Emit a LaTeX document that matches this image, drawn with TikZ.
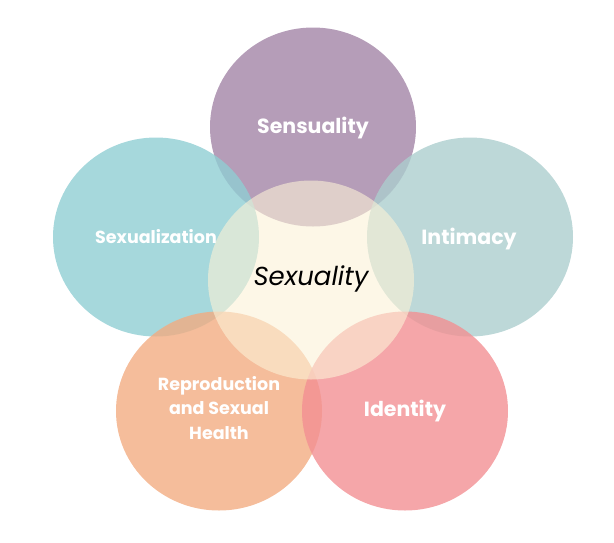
\documentclass[tikz,border=0pt]{standalone}
\usepackage{fontspec}
\setmainfont{Poppins}
\usetikzlibrary{shapes.geometric}
\definecolor{cpurple}{RGB}{162,132,166}
\definecolor{cteal}{RGB}{144,206,211}
\definecolor{cmint}{RGB}{172,206,206}
\definecolor{corange}{RGB}{242,172,130}
\definecolor{cpink}{RGB}{242,144,147}
\definecolor{ccream}{RGB}{252,242,215}
\tikzset{
  blob/.style={ellipse, minimum width=206pt, minimum height=199pt, inner sep=0pt, fill opacity=0.8, draw=none},
  core/.style={ellipse, minimum width=206pt, minimum height=199pt, inner sep=0pt, fill=ccream, fill opacity=0.6, draw=none},
  lab/.style={text=white, anchor=base, inner sep=0pt, font=\fontsize{20.5}{22}\selectfont\bfseries, align=center},
  small/.style={text=white, anchor=base, inner sep=0pt, font=\fontsize{17.5}{24.5}\selectfont\bfseries, align=center},
}
\begin{document}
\begin{tikzpicture}[x=1pt,y=-1pt]
\useasboundingbox (0,0) rectangle (614,542);
\node[blob, fill=cpurple] (sens) at (313,127) {};
\node[blob, fill=cteal] (sexz) at (156,237) {};
\node[blob, fill=cmint] (inti) at (470,237) {};
\node[blob, fill=corange] (repr) at (219,411) {};
\node[blob, fill=cpink] (iden) at (405,411) {};
\node[core] (core) at (311,280) {};
\node[lab] (sensl) at (313,133) {Sensuality};
\node[small] (sexzl) at (156,243) {Sexualization};
\node[lab] (intil) at (469,244) {Intimacy};
\node[lab] (idenl) at (405,416) {Identity};
\node[small] (reprl) at (219,439) {Reproduction\\and Sexual\\Health};
\node[text=black, anchor=base, inner sep=0pt, font=\fontsize{26}{28}\selectfont\itshape] (corel) at (311,285) {Sexuality};
\end{tikzpicture}
\end{document}
